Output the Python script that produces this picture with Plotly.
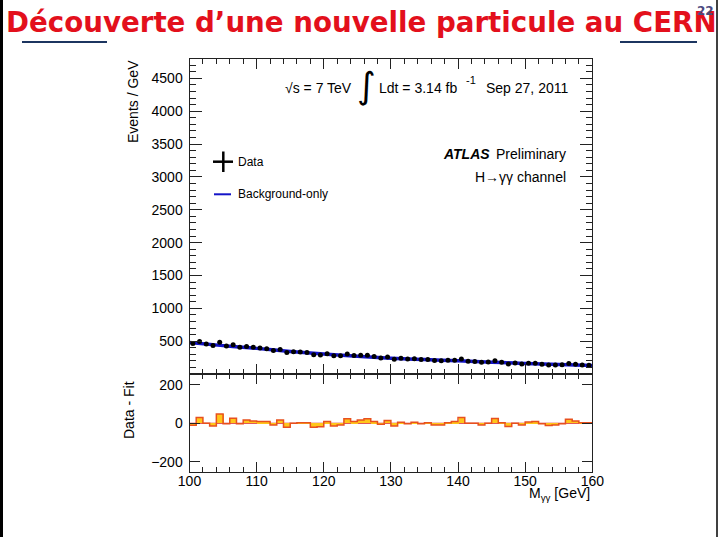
import plotly.graph_objects as go

# ---------------- data ----------------
bin_edges = [100 + i for i in range(61)]                  # 1 GeV bins, 100-160 GeV
mass_centers = [100.5 + i for i in range(60)]

data_events = [465, 495, 455, 432, 485, 425, 445, 408, 420, 407,
               395, 385, 357, 374, 327, 339, 334, 326, 294, 289,
               309, 279, 278, 303, 283, 285, 285, 265, 245, 258,
               225, 240, 227, 231, 219, 221, 205, 201, 209, 211,
               228, 194, 190, 177, 182, 202, 177, 153, 166, 153,
               165, 164, 149, 137, 137, 140, 161, 149, 137, 134]

fit_mass = [100, 105, 110, 115, 120, 125, 130, 135, 140, 145, 150, 155, 160]
fit_events = [480, 432, 390, 343, 303, 271, 241, 220, 200, 180, 160, 144, 129]

residuals = [-10, 30, 0, -14, 48, -3, 26, -3, 17, 12,
             9, 9, -9, 17, -21, 0, 3, 3, -21, -18,
             9, -14, -9, 23, 9, 17, 23, 9, -5, 14,
             -14, 5, -3, 5, -3, 3, -9, -9, 3, 9,
             30, 0, 0, -9, 0, 24, 3, -17, 0, -9,
             7, 9, -3, -12, -9, -3, 21, 12, 3, 3]

main_ticks = [500, 1000, 1500, 2000, 2500, 3000, 3500, 4000, 4500]
resid_ticks = [-200, 0, 200]
x_ticks = [100, 110, 120, 130, 140, 150, 160]

# ---------------- layout helpers ----------------
W, H = 720, 540
def px(x):
    return x / W
def py(y):
    return 1 - y / H

FONT = "Liberation Sans, Arial, Helvetica, sans-serif"
X0, X1 = px(189.5), px(592.3)
MAIN_DOM = [py(374), py(59.3)]
RES_DOM = [py(471.7), py(374)]

fig = go.Figure()

fig.add_trace(go.Scatter(x=fit_mass, y=fit_events, mode="lines",
                         line=dict(color="#1414c8", width=3.5, shape="spline"),
                         xaxis="x", yaxis="y", showlegend=False, hoverinfo="skip"))
fig.add_trace(go.Scatter(x=mass_centers, y=data_events, mode="markers",
                         marker=dict(color="black", size=5),
                         xaxis="x", yaxis="y", showlegend=False))

fig.add_trace(go.Bar(x=mass_centers, y=residuals, width=1.0,
                     marker=dict(color="#ffc61a", line=dict(width=0)),
                     xaxis="x2", yaxis="y2", showlegend=False))
fig.add_trace(go.Scatter(x=bin_edges, y=residuals + [residuals[-1]], mode="lines",
                         line=dict(color="#e8501e", width=1.5, shape="hv"),
                         xaxis="x2", yaxis="y2", showlegend=False, hoverinfo="skip"))

axis_common = dict(showline=True, linecolor="#222", linewidth=1, mirror="allticks",
                   ticks="inside", tickcolor="#222", showgrid=False, zeroline=False,
                   automargin=False,
                   tickfont=dict(family=FONT, size=14, color="black"))

fig.update_layout(
    width=W, height=H, margin=dict(l=0, r=0, t=0, b=0, pad=0, autoexpand=False),
    autosize=False, template="none",
    paper_bgcolor="white", plot_bgcolor="white", bargap=0, showlegend=False,
    xaxis=dict(domain=[X0, X1], range=[100, 160], anchor="y", tickvals=x_ticks,
               showticklabels=False, ticklen=10,
               minor=dict(dtick=2, tick0=100, ticklen=5, ticks="inside", tickcolor="#222"),
               **axis_common),
    yaxis=dict(domain=MAIN_DOM, range=[0, 4790], anchor="x", tickvals=main_ticks,
               ticklen=12, ticklabelstandoff=3,
               minor=dict(dtick=100, tick0=0, ticklen=6, ticks="inside", tickcolor="#222"),
               **axis_common),
    xaxis2=dict(domain=[X0, X1], range=[100, 160], anchor="y2", tickvals=x_ticks,
                ticklen=10, ticklabelstandoff=-4,
                minor=dict(dtick=2, tick0=100, ticklen=5, ticks="inside", tickcolor="#222"),
                **axis_common),
    yaxis2=dict(domain=RES_DOM, range=[-252, 256], anchor="x2", tickvals=resid_ticks,
                ticklen=10, ticklabelstandoff=3,
                **axis_common),
)

shapes = [
    dict(type="line", xref="x2", yref="y2", x0=100, x1=160, y0=0, y1=0,
         line=dict(color="#d82020", width=1.2), layer="below"),
    dict(type="line", xref="paper", yref="paper", x0=px(22), x1=px(107), y0=py(42), y1=py(42),
         line=dict(color="#1c3560", width=2)),
    dict(type="line", xref="paper", yref="paper", x0=px(620), x1=px(697), y0=py(42), y1=py(42),
         line=dict(color="#1c3560", width=2)),
    dict(type="line", xref="paper", yref="paper", x0=px(1.5), x1=px(1.5), y0=py(0), y1=py(537),
         line=dict(color="black", width=3)),
    dict(type="line", xref="paper", yref="paper", x0=px(717), x1=px(717), y0=py(0), y1=py(537),
         line=dict(color="black", width=1.5)),
    dict(type="line", xref="paper", yref="paper", x0=px(213), x1=px(233), y0=py(161.7), y1=py(161.7),
         line=dict(color="black", width=2.5)),
    dict(type="line", xref="paper", yref="paper", x0=px(223.3), x1=px(223.3), y0=py(151.5), y1=py(172),
         line=dict(color="black", width=2.5)),
    dict(type="line", xref="paper", yref="paper", x0=px(214), x1=px(231), y0=py(194.3), y1=py(194.3),
         line=dict(color="#1414c8", width=2)),
]
fig.update_layout(shapes=shapes)

def ann(text, x, y, size=14, xanchor="left", yanchor="middle", color="black",
        family=FONT, textangle=0):
    fig.add_annotation(text=text, x=px(x), y=py(y), xref="paper", yref="paper",
                       showarrow=False, xanchor=xanchor, yanchor=yanchor,
                       textangle=textangle,
                       font=dict(size=size, color=color, family=family))

ann("<b>Découverte d’une nouvelle particule au CERN</b>", 361, 22, size=27.7,
    xanchor="center", color="#e3101c", family="DejaVu Sans, Verdana, sans-serif")
ann("<b>22</b>", 705, 11, size=12, xanchor="center", color="#4a4a80",
    family="DejaVu Sans, sans-serif")

ann("√s = 7 TeV", 283, 88)
ann("∫", 366, 85, size=36, xanchor="center", family="DejaVu Sans, sans-serif")
ann("Ldt = 3.14 fb", 377, 88)
ann("-1", 464, 80, size=11)
ann("Sep 27, 2011", 570, 88, xanchor="right")
ann("<b><i>ATLAS</i></b>", 441, 154)
ann("Preliminary", 568, 154, xanchor="right")
ann("H→γγ channel", 568, 177, xanchor="right")
ann("Data", 236, 162, size=12)
ann("Background-only", 236, 194, size=12)

ann("Events / GeV", 133, 102, size=14, xanchor="center", textangle=-90)
ann("Data - Fit", 129, 410, size=14, xanchor="center", textangle=-90)
ann("M<sub>γγ</sub> [GeV]", 592, 494, size=14, xanchor="right")

fig.write_html("out.html", config={"displayModeBar": False},
               post_script="document.documentElement.style.margin='0';"
                           "document.body.style.margin='0';"
                           "document.body.style.overflow='hidden';")
